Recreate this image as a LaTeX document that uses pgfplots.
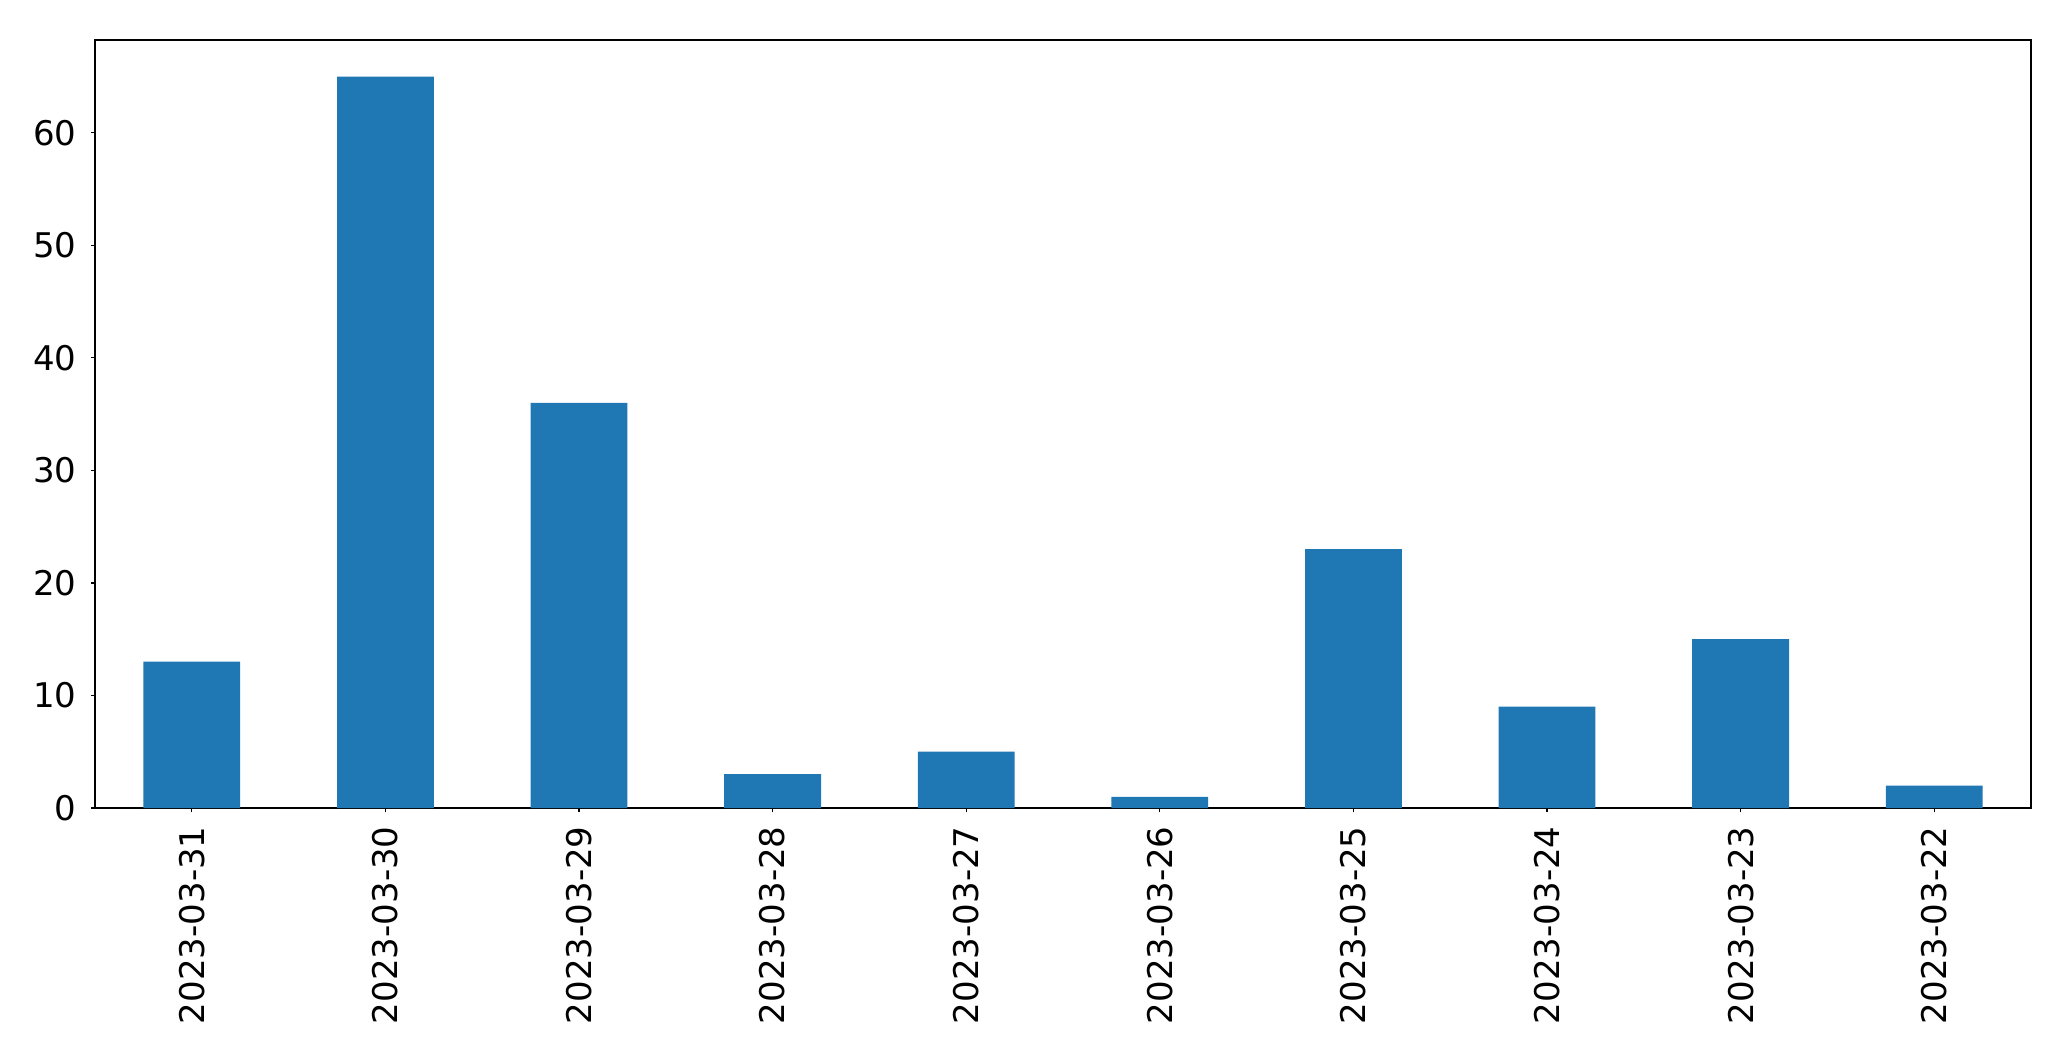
\documentclass[border=0pt]{standalone}
\usepackage{pgfplots}
\pgfplotsset{compat=1.18}
\usepackage{fontspec}
\setmainfont{DejaVu Sans}
\definecolor{mplblue}{HTML}{1F77B4}
\begin{document}
\begin{tikzpicture}
\begin{axis}[
  scale only axis,
  width=968pt, height=384pt,
  xmin=-0.5, xmax=9.5,
  ymin=0, ymax=68.25,
  xtick={0,1,2,3,4,5,6,7,8,9},
  xticklabels={2023-03-31,2023-03-30,2023-03-29,2023-03-28,2023-03-27,2023-03-26,2023-03-25,2023-03-24,2023-03-23,2023-03-22},
  ytick={0,10,20,30,40,50,60},
  x tick label style={rotate=90, anchor=east, font=\fontsize{17}{20}\selectfont, inner sep=0pt, xshift=-0pt, yshift=0pt},
  y tick label style={font=\fontsize{17}{20}\selectfont, inner sep=0pt},
  xticklabel shift=7pt,
  yticklabel shift=7pt,
  /pgf/number format/assume math mode=true,
  tick align=outside,
  major tick length=2pt,
  tick style={black, line width=0.6pt},
  axis line style={line width=0.6pt},
  xtick pos=bottom, ytick pos=left,
  axis on top=false,
]
\addplot[ybar, bar width=0.5, fill=mplblue, draw=none] coordinates {
(0,13) (1,65) (2,36) (3,3) (4,5) (5,1) (6,23) (7,9) (8,15) (9,2)
};
\end{axis}
\pgfresetboundingbox
\path (-47.5pt,-126.5pt) rectangle (988pt,404pt);
\end{tikzpicture}
\end{document}
